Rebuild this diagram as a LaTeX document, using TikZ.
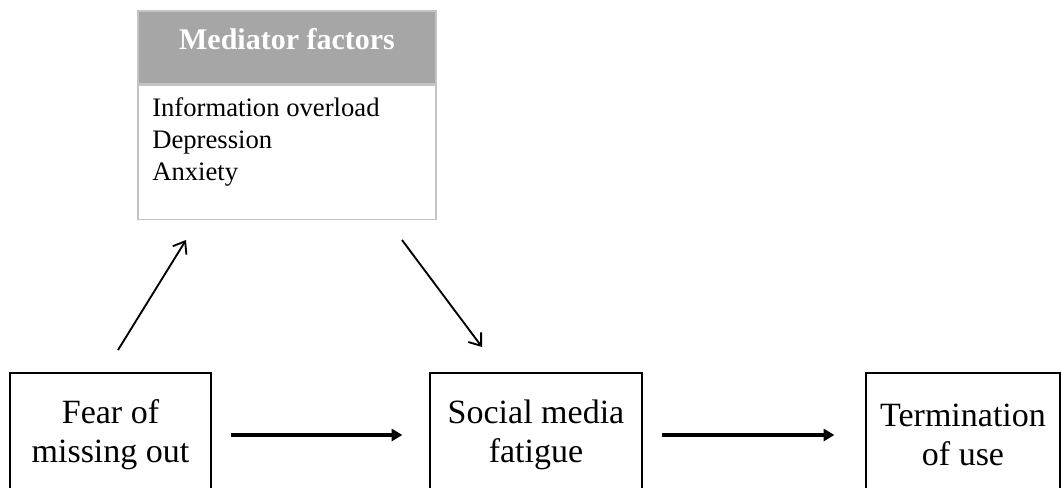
\documentclass[tikz,border=0pt]{standalone}
\usepackage{fontspec}
\setmainfont{Liberation Serif}
\usetikzlibrary{arrows.meta,positioning}
\definecolor{headgray}{HTML}{A6A6A6}
\definecolor{edgegray}{HTML}{C4C4C4}

\begin{document}
\begin{tikzpicture}[
    x=0.75pt, y=-0.75pt,
    factor/.style={rectangle, draw=black, line width=1pt, minimum height=93pt, align=center, inner sep=0pt, font={\fontsize{25.5pt}{29.25pt}\selectfont}},
    medhead/.style={rectangle, fill=headgray, draw=edgegray, line width=0.9pt, minimum width=223.5pt, minimum height=54.75pt, inner sep=0pt},
    medbody/.style={rectangle, draw=edgegray, line width=0.9pt, minimum width=223.5pt, minimum height=100.5pt, inner sep=0pt},
    link/.style={draw, line width=2.6pt, -{Triangle[length=8pt,width=9pt]}},
    effect/.style={draw, line width=1.4pt, -{Straight Barb[length=8pt,width=12pt]}}
]

\fill[white] (0,0) rectangle (1061,487);
\clip (0,0) rectangle (1061,487);

% Nodes
\node[medhead] (medtitle) at (287,47.5) {};
\node[medbody, below=0pt of medtitle] (medlist) {};
\node[anchor=base, text=white, inner sep=0pt, font={\bfseries\fontsize{22.5pt}{27pt}\selectfont}] (medname) at (287,49) {Mediator factors};
\node[anchor=north west, align=left, inner sep=0pt, font={\fontsize{20pt}{24pt}\selectfont}] (medfactors) at (152,97) {Information overload\\Depression\\Anxiety};

\node[factor, minimum width=150.75pt] (fomo) at (110.5,435) {Fear of\\missing out};
\node[factor, minimum width=159pt] (fatigue) at (536,435) {Social media\\fatigue};
\node[factor, minimum width=145.5pt] (termination) at (963,435) {Termination\\of use};

\coordinate (fomoup) at (118,350);
\coordinate (medin) at (186,240);
\coordinate (medout) at (402,240);
\coordinate (fatiguein) at (482,347);

% Lines
\draw[link, shorten <=14.25pt, shorten >=20.25pt] (fomo) -- (fatigue);
\draw[link, shorten <=14.25pt, shorten >=23.25pt] (fatigue) -- (termination);
\draw[effect] (fomoup) -- (medin);
\draw[effect] (medout) -- (fatiguein);

\end{tikzpicture}
\end{document}
